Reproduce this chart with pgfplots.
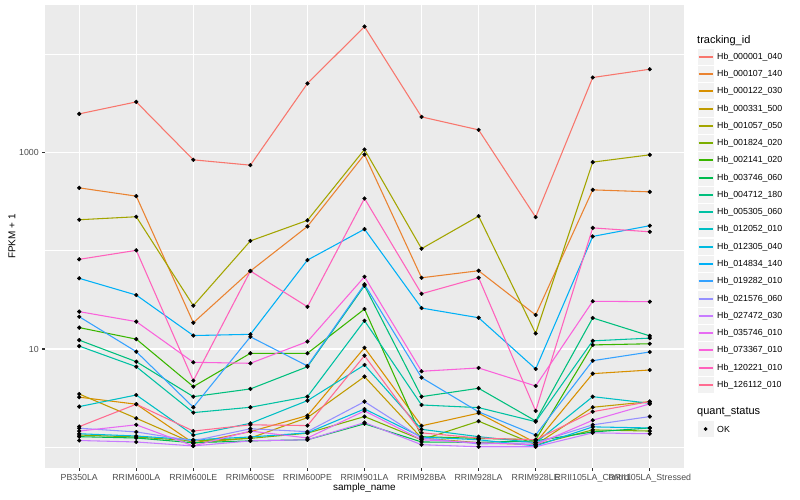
\documentclass[border=0pt]{standalone}
\usepackage{fontspec}
\setmainfont{Liberation Sans}
\usepackage{pgfplots}
\usepackage{pgfplotstable}
\pgfplotsset{compat=1.18}

% ggplot hue palette, 20 levels
\definecolor{c1}{HTML}{F8766D}\definecolor{c2}{HTML}{EA8331}
\definecolor{c3}{HTML}{D89000}\definecolor{c4}{HTML}{C09B00}
\definecolor{c5}{HTML}{A3A500}\definecolor{c6}{HTML}{7CAE00}
\definecolor{c7}{HTML}{39B600}\definecolor{c8}{HTML}{00BB4E}
\definecolor{c9}{HTML}{00BF7D}\definecolor{c10}{HTML}{00C1A3}
\definecolor{c11}{HTML}{00BFC4}\definecolor{c12}{HTML}{00BAE0}
\definecolor{c13}{HTML}{00B0F6}\definecolor{c14}{HTML}{35A2FF}
\definecolor{c15}{HTML}{9590FF}\definecolor{c16}{HTML}{C77CFF}
\definecolor{c17}{HTML}{E76BF3}\definecolor{c18}{HTML}{FA62DB}
\definecolor{c19}{HTML}{FF62BC}\definecolor{c20}{HTML}{FF6C91}
\definecolor{panelgray}{HTML}{EBEBEB}
\definecolor{keygray}{HTML}{F2F2F2}
\definecolor{gray30}{HTML}{4D4D4D}
\definecolor{gray20}{HTML}{333333}

% FPKM + 1, one row per sample, one column per tracking_id
\pgfplotstableread{
x  s1    s2   s3    s4   s5   s6   s7   s8   s9   s10  s11  s12  s13  s14  s15  s16  s17  s18  s19  s20
0  2476  437  3.23  3.48 207  1.33 16.5 1.28 12.3 10.7 2.59 1.37 52.4 21.3 1.56 1.17 1.46 24.0 81.8 1.62
1  3280  360  2.74  1.97 222  1.27 12.6 1.24 7.43 6.60 3.40 1.30 35.4 9.39 1.43 1.13 1.69 19.0 101  2.74
2  843   18.5 1.10  1.10 27.6 1.16 4.14 1.11 3.27 2.25 1.33 1.19 13.7 2.55 1.16 1.03 1.03 7.32 4.76 1.46
3  744   62.2 1.44  1.24 126  1.23 9.04 1.16 3.92 2.55 1.75 1.27 14.1 13.3 1.54 1.16 1.46 7.15 62.2 1.69
4  5050  177  2.10  2.00 204  1.39 9.04 1.19 6.60 3.27 2.98 1.40 80.4 6.72 1.44 1.19 1.24 11.9 26.9 1.66
5  19180 956  10.3  5.23 1075 2.05 25.5 1.73 44.1 19.4 6.88 2.45 166  45.5 2.91 1.78 2.34 54.4 341  8.55
6  2307  53.1 1.65  1.24 105  1.19 1.28 1.13 3.27 2.69 1.52 1.27 26.1 5.11 1.24 1.06 1.19 5.93 36.5 1.40
7  1702  62.6 2.22  1.11 225  1.84 1.23 1.12 3.98 2.53 1.28 1.19 20.8 2.29 1.08 1.01 1.11 6.41 53.1 1.24
8  220   22.2 1.11  1.06 14.4 1.06 1.19 1.16 1.85 1.82 1.11 1.03 6.26 1.33 1.11 1.01 1.06 4.20 2.34 1.19
9  5808  417  5.61  2.55 799  1.50 11.0 1.43 20.7 12.1 3.27 1.61 140  7.60 1.69 1.40 1.88 30.6 171  2.30
10 7053  398  6.11  2.91 948  1.46 11.3 1.57 13.6 12.9 2.80 1.57 180  9.32 2.05 1.37 2.76 30.3 156  2.91
}\fpkm

\begin{document}
\begin{tikzpicture}
\useasboundingbox (-45bp,-32bp) rectangle (755bp,468bp);
\begin{axis}[
  at={(0,0)}, anchor=south west,
  width=639bp, height=463bp, scale only axis,
  xmin=-0.6, xmax=10.6,
  ymode=log, ymin=0.614, ymax=31800,
  xtick={0,...,10},
  xticklabels={PB350LA,RRIM600LA,RRIM600LE,RRIM600SE,RRIM600PE,RRIM901LA,RRIM928BA,RRIM928LA,RRIM928LE,RRII105LA\_Control,RRII105LA\_Stressed},
  ytick={10,1000}, yticklabels={10,1000},
  minor ytick={1,100,10000},
  xtick pos=bottom, ytick pos=left,
  xmajorgrids, ymajorgrids, yminorgrids,
  axis background/.style={fill=panelgray},
  axis line style={draw=none},
  major grid style={white, line width=1.07bp},
  minor grid style={white, line width=0.53bp},
  tick align=outside, major tick length=2.75bp, minor tick length=0pt,
  tick style={gray20, line width=1.07bp},
  ticklabel style={font=\fontsize{8.8bp}{10bp}\selectfont, text=gray30},
  xlabel={sample\_name}, ylabel={FPKM + 1},
  label style={font=\fontsize{11bp}{13bp}\selectfont},
  every axis x label/.style={at={(axis description cs:0.5,-0.0432)}, anchor=center},
  every axis y label/.style={at={(axis description cs:-0.0516,0.5)}, rotate=90, anchor=center},
]
\pgfplotsinvokeforeach{1,...,20}{
  \addplot[color=c#1, line width=1.07bp, no markers] table[x=x, y=s#1] {\fpkm};
}
\pgfplotsinvokeforeach{1,...,20}{
  \addplot[only marks, mark=*, mark size=1.9bp, black] table[x=x, y=s#1] {\fpkm};
}
\end{axis}

% legends, drawn as in ggplot
\begin{scope}[x=1bp, y=1bp]
  \node[anchor=west, inner sep=0pt, font=\fontsize{11bp}{13bp}\selectfont] at (652,427.5) {tracking\_id};
  \foreach \i/\name in {1/000001\_040,2/000107\_140,3/000122\_030,4/000331\_500,5/001057\_050,
      6/001824\_020,7/002141\_020,8/003746\_060,9/004712\_180,10/005305\_060,11/012052\_010,
      12/012305\_040,13/014834\_140,14/019282\_010,15/021576\_060,16/027472\_030,17/035746\_010,
      18/073367\_010,19/120221\_010,20/126112\_010}{
    \pgfmathsetmacro\yc{round(411.3-17.28*(\i-1))}
    \pgfmathsetmacro\yb{\yc-8.64}
    \filldraw[fill=keygray, draw=white, line width=0.8bp] (652,\yb) rectangle ++(17.28,17.28);
    \draw[c\i, line width=2bp] (653.7,\yc) -- (667.6,\yc);
    \node[anchor=west, inner sep=0pt, font=\fontsize{8.8bp}{10bp}\selectfont] at (672,\yc) {Hb\_\name};
  }
  \node[anchor=west, inner sep=0pt, font=\fontsize{11bp}{13bp}\selectfont] at (652,55.7) {quant\_status};
  \filldraw[fill=keygray, draw=white, line width=0.8bp] (652,30.36) rectangle ++(17.28,17.28);
  \fill[black] (660.64,39) circle (1.9);
  \node[anchor=west, inner sep=0pt, font=\fontsize{8.8bp}{10bp}\selectfont] at (672,39) {OK};
\end{scope}
\end{tikzpicture}
\end{document}
